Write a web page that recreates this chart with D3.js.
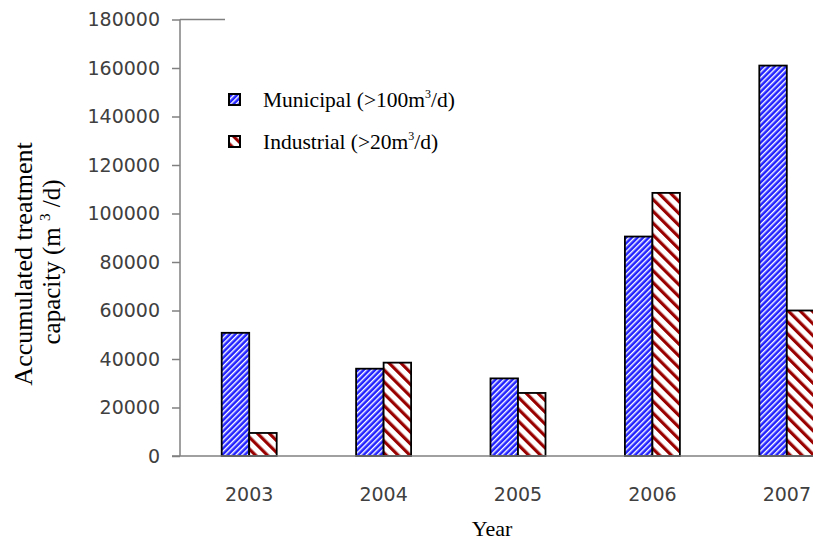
<!DOCTYPE html>
<html>
<head>
<meta charset="utf-8">
<script src="https://cdn.jsdelivr.net/npm/d3@7/dist/d3.min.js"></script>
<style>
  html, body { margin: 0; padding: 0; background: #fff; }
  svg { display: block; }
</style>
</head>
<body>
<script>
const years = ["2003", "2004", "2005", "2006", "2007"];
const municipal = [50800, 36000, 32000, 90500, 161000];
const industrial = [9500, 38500, 26000, 108500, 60000];
const yTicks = [0, 20000, 40000, 60000, 80000, 100000, 120000, 140000, 160000, 180000];
const seriesNames = ["Municipal (>100m", "Industrial (>20m"];

const W = 813, H = 546;
const svg = d3.select("body").append("svg").attr("width", W).attr("height", H);

const defs = svg.append("defs");
const pm = defs.append("pattern").attr("id", "patM").attr("patternUnits", "userSpaceOnUse")
  .attr("width", 4).attr("height", 4).attr("patternTransform", "rotate(45)");
pm.append("rect").attr("width", 4).attr("height", 4).attr("fill", "#2222ff");
pm.append("rect").attr("x", 0).attr("width", 1.4).attr("height", 4).attr("fill", "#ffffff");

const pi = defs.append("pattern").attr("id", "patI").attr("patternUnits", "userSpaceOnUse")
  .attr("width", 8.4).attr("height", 8.4).attr("patternTransform", "rotate(-45)");
pi.append("rect").attr("width", 8.4).attr("height", 8.4).attr("fill", "#ffffff");
pi.append("rect").attr("x", 0).attr("width", 3.2).attr("height", 8.4).attr("fill", "#990000");

const plotLeft = 180, plotTop = 19.5, plotBottom = 456;
const x = d3.scaleBand().domain(years).range([182, 854]);
const y = d3.scaleLinear().domain([0, 180000]).range([plotBottom, plotTop]);
const barW = 27.5;

const g = svg.append("g");
const fills = ["url(#patM)", "url(#patI)"];
const data = [municipal, industrial];

data.forEach((vals, si) => {
  g.selectAll(".bar" + si).data(years).enter().append("rect")
    .attr("x", d => x(d) + x.bandwidth() / 2 - barW + si * barW)
    .attr("y", (d, i) => y(vals[i]))
    .attr("width", barW)
    .attr("height", (d, i) => y(0) - y(vals[i]))
    .attr("fill", fills[si])
    .attr("stroke", "#000").attr("stroke-width", 1.8);
});

// y axis
const yAxis = d3.axisLeft(y).tickValues(yTicks).tickSize(8).tickPadding(12).tickFormat(d3.format("d"));
const ya = svg.append("g").attr("transform", `translate(${plotLeft},0)`).call(yAxis);
ya.select(".domain").attr("stroke", "#808080").attr("stroke-width", 1.5).attr("d", `M0,${plotTop}V${plotBottom}`);
ya.selectAll(".tick line").attr("stroke", "#808080").attr("stroke-width", 1.5);
ya.selectAll(".tick text").attr("font-family", "DejaVu Sans").attr("font-size", 19).attr("fill", "#404040");

// top line
svg.append("line").attr("x1", plotLeft).attr("x2", 225).attr("y1", plotTop).attr("y2", plotTop)
  .attr("stroke", "#808080").attr("stroke-width", 1.5);

// x axis
const xAxis = d3.axisBottom(x).tickSize(0).tickPadding(32);
const xa = svg.append("g").attr("transform", `translate(0,${plotBottom})`).call(xAxis);
xa.select(".domain").attr("stroke", "#808080").attr("stroke-width", 1.5).attr("d", `M172,0H${W}`);
xa.selectAll(".tick text").attr("font-family", "DejaVu Sans").attr("font-size", 19).attr("fill", "#404040");

// x title
svg.append("text").attr("x", 492).attr("y", 536).attr("text-anchor", "middle")
  .attr("font-family", "Liberation Serif").attr("font-size", 22).attr("fill", "#000").text("Year");

// y title
const yt = svg.append("text").attr("transform", "translate(32,264) rotate(-90)")
  .attr("text-anchor", "middle").attr("font-family", "Liberation Serif").attr("font-size", 26).attr("fill", "#000");
yt.append("tspan").attr("x", 0).attr("y", 0).text("Accumulated treatment");
const yt2 = svg.append("text").attr("transform", "translate(60,262) rotate(-90)")
  .attr("text-anchor", "middle").attr("font-family", "Liberation Serif").attr("font-size", 25).attr("fill", "#000");
yt2.append("tspan").text("capacity (m ");
yt2.append("tspan").attr("dy", -10).attr("font-size", 15).text("3");
yt2.append("tspan").attr("dy", 10).text(" /d)");

// legend
const legY = [94, 136];
seriesNames.forEach((name, i) => {
  svg.append("rect").attr("x", 229).attr("y", legY[i]).attr("width", 11).attr("height", 11)
    .attr("fill", fills[i]).attr("stroke", "#000").attr("stroke-width", 2);
  const t = svg.append("text").attr("x", 263).attr("y", legY[i] + 12.5)
    .attr("font-family", "Liberation Serif").attr("font-size", 21.5).attr("fill", "#000");
  t.append("tspan").text(name);
  t.append("tspan").attr("dy", -9).attr("font-size", 12).text("3");
  t.append("tspan").attr("dy", 9).text("/d)");
});
</script>
</body>
</html>
